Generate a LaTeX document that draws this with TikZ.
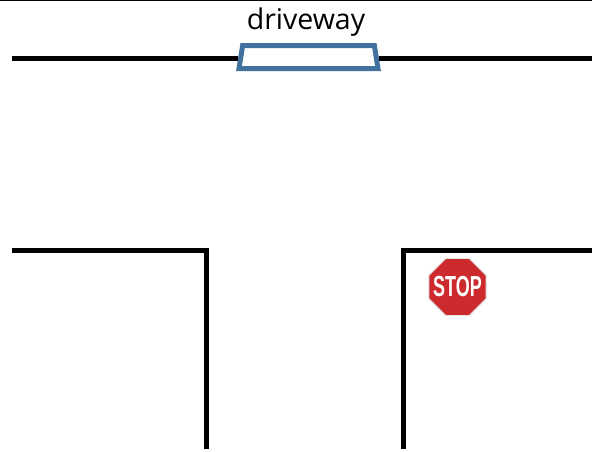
\documentclass[tikz,border=0pt]{standalone}
\usepackage{fontspec}
\setmainfont{Open Sans}
\newfontfamily\signfont{Liberation Sans}
\usetikzlibrary{positioning, shapes.geometric}
\definecolor{drivewayblue}{HTML}{41719C}
\definecolor{stopred}{HTML}{CC2A2C}
\tikzset{
    roadline/.style = {draw=black, line width=5pt},
    edgeline/.style = {draw=black, line width=1.2pt},
    drivewaynode/.style = {draw=drivewayblue, fill=white, line width=5pt, trapezium, 
      trapezium angle=81, trapezium stretches body=true, minimum width=139pt, text height=23pt, inner sep=0pt},
    stopnode/.style = {draw=black!10, fill=stopred, line width=1.2pt, regular polygon, regular polygon sides=8, 
      minimum size=62pt, inner sep=0pt},
    textnode/.style = {draw=none, fill=none, rectangle, inner sep=0pt, font=\fontsize{28.5}{32}\selectfont}
}

\begin{document}
\begin{tikzpicture}[x=1pt, y=-1pt]
    \useasboundingbox (0,0) rectangle (592,451);

    \coordinate (edge1) at (0,0.5);
    \coordinate (edge2) at (592,0.5);
    \draw [edgeline] (edge1) -- (edge2);

    % road opposite the driveway
    \coordinate (far1) at (12,58);
    \coordinate (far2) at (592,58);
    \node [name=driveway, drivewaynode] at (308.5,57) {};
    \draw [roadline] (far1) -- (far1 -| driveway.west);
    \draw [roadline] (far2 -| driveway.east) -- (far2);
    \node [name=drivewaytext, textnode, above=6pt of driveway.north, xshift=-2.5pt] {driveway};

    % left corner
    \coordinate (left1) at (12,250.5);
    \coordinate (left2) at (206.5,250.5);
    \coordinate (left3) at (206.5,449);
    \draw [roadline] (left1) -- (left2) -- (left3);

    % right corner
    \coordinate (right1) at (592,250.5);
    \coordinate (right2) at (403,250.5);
    \coordinate (right3) at (403,449);
    \draw [roadline] (right1) -- (right2) -- (right3);

    \node [name=stop, stopnode] at (457.5,287) {};
    \node [name=stoptext, at=(stop.center), text=white, inner sep=0pt, xscale=0.62, 
        font=\signfont\bfseries\fontsize{29}{29}\selectfont] {STOP};
\end{tikzpicture}
\end{document}
